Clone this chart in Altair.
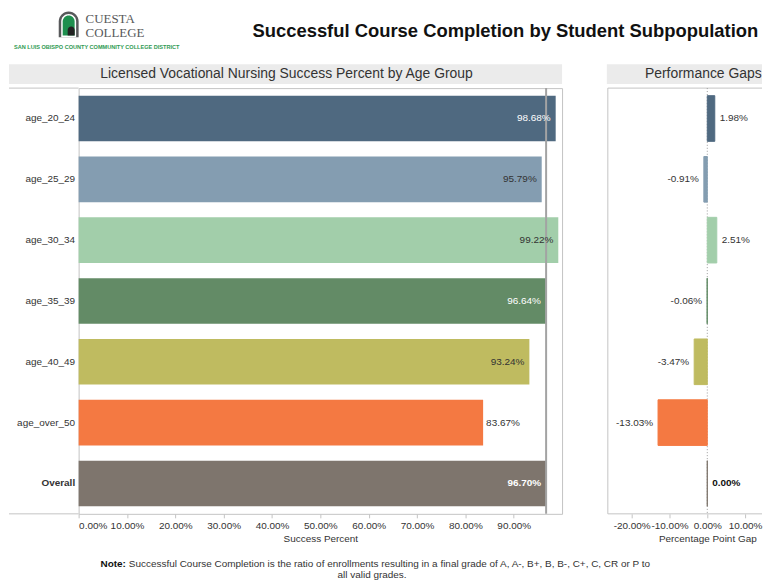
import altair as alt
import pandas as pd

# ---------------- data ----------------
groups = ["age_20_24", "age_25_29", "age_30_34", "age_35_39", "age_40_49", "age_over_50", "Overall"]
success_pct = [98.68, 95.79, 99.22, 96.64, 93.24, 83.67, 96.70]
gap_pct = [1.98, -0.91, 2.51, -0.06, -3.47, -13.03, 0.00]
bar_colors = ["#4f6980", "#849db1", "#a2ceaa", "#638b66", "#bfbb60", "#f47942", "#7e756d"]
success_label_colors = ["#ffffff", "#333333", "#333333", "#ffffff", "#333333", "#333333", "#ffffff"]
success_label_inside = [True, True, True, True, True, False, True]
success_ticks = [0.0, 0.1, 0.2, 0.3, 0.4, 0.5, 0.6, 0.7, 0.8, 0.9]
gap_ticks = [-0.2, -0.1, 0.0, 0.1]
gap_domain = [-0.26316, 0.14474]

main_title = "Successful Course Completion by Student Subpopulation"
left_title = "Licensed Vocational Nursing Success Percent by Age Group"
right_title = "Performance Gaps"
logo_top = "CUESTA"
logo_bottom = "COLLEGE"
logo_district = "SAN LUIS OBISPO COUNTY COMMUNITY COLLEGE DISTRICT"
note_bold = "Note:"
note_line1 = "Successful Course Completion is the ratio of enrollments resulting in a final grade of A, A-, B+, B, B-, C+, C, CR or P to"
note_line2 = "all valid grades."

FONT = "Liberation Sans"
LINE = "#c4c4c4"
TXT = "#333333"
HDR = "#ebebeb"

df = pd.DataFrame({
    "group": groups,
    "success": [v / 100 for v in success_pct],
    "gap": [v / 100 for v in gap_pct],
    "color": bar_colors,
    "lab_color": success_label_colors,
    "inside": success_label_inside,
    "s_label": [f"{v:.2f}%" for v in success_pct],
    "g_label": [f"{v:.2f}%" for v in gap_pct],
})
one = pd.DataFrame({"k": [0]})

LW, RW, H = 486, 155, 428
FULLW = 685
ypad = alt.Scale(paddingInner=0.25, paddingOuter=0.125)
noview = alt.ViewBackground(stroke="transparent")

# ---------------- left panel ----------------
yL = alt.Y("group:N", sort=groups, title=None, scale=ypad,
           axis=alt.Axis(domain=False, ticks=False, labelPadding=4, labelFontSize=10,
                         labelColor=TXT, labelFont=FONT, labelLimit=200,
                         labelFontWeight={"condition": {"test": "datum.value == 'Overall'", "value": "bold"},
                                          "value": "normal"}))
xL = alt.X("success:Q", scale=alt.Scale(domain=[0, 1], nice=False),
           axis=alt.Axis(values=success_ticks, format=".2%", title="Success Percent", grid=False,
                         domain=False, tickSize=4, tickColor=LINE, labelFlush=True,
                         labelFontSize=10, labelColor=TXT, labelFont=FONT, labelPadding=3,
                         titleFontSize=10, titleFontWeight="normal", titleColor=TXT, titleFont=FONT,
                         titlePadding=3))
base = alt.Chart(df)
barsL = base.mark_bar().encode(x=xL, y=yL, color=alt.Color("color:N", scale=None))
ruleL = base.transform_filter("datum.group == 'Overall'").mark_rule(color="#a3a3a3", strokeWidth=2).encode(
    x="success:Q")
ys = alt.Y("group:N", sort=groups)
txtL_in = base.transform_filter("datum.inside && datum.group != 'Overall'").mark_text(
    align="right", dx=-5, fontSize=10, font=FONT).encode(
    x="success:Q", y=ys, text="s_label:N", color=alt.Color("lab_color:N", scale=None))
txtL_out = base.transform_filter("!datum.inside").mark_text(
    align="left", dx=3, fontSize=10, font=FONT).encode(
    x="success:Q", y=ys, text="s_label:N", color=alt.Color("lab_color:N", scale=None))
txtL_ov = base.transform_filter("datum.group == 'Overall'").mark_text(
    align="right", dx=-5, fontSize=10, font=FONT, fontWeight="bold").encode(
    x="success:Q", y=ys, text="s_label:N", color=alt.Color("lab_color:N", scale=None))
hdrL = alt.Chart(one).mark_rect(color=HDR).encode(
    x=alt.value(-70), x2=alt.value(LW), y=alt.value(-24), y2=alt.value(-4))
hdrLt = alt.Chart(one).mark_text(fontSize=14, color=TXT, font=FONT).encode(
    x=alt.value(209), y=alt.value(-14), text=alt.value(left_title))
topL = alt.Chart(one).mark_rule(color=LINE).encode(x=alt.value(-70), x2=alt.value(0), y=alt.value(0))
botL = alt.Chart(one).mark_rule(color=LINE).encode(x=alt.value(-70), x2=alt.value(0), y=alt.value(H))

left = alt.layer(hdrL, hdrLt, topL, botL, barsL, ruleL, txtL_in, txtL_out, txtL_ov).properties(
    width=LW, height=H)

# ---------------- right panel ----------------
yR = alt.Y("group:N", sort=groups, title=None, scale=ypad, axis=None)
xR = alt.X("gap:Q", scale=alt.Scale(domain=gap_domain, nice=False),
           axis=alt.Axis(values=gap_ticks, format=".2%", title="Percentage Point Gap", grid=False,
                         labelExpr="replace(datum.label, '\u2212', '-')",
                         domain=False, tickSize=4, tickColor=LINE,
                         labelFontSize=10, labelColor=TXT, labelFont=FONT, labelPadding=3,
                         titleFontSize=10, titleFontWeight="normal", titleColor=TXT, titleFont=FONT,
                         titlePadding=3, titleX=100, titleAlign="center"))
zeroR = alt.Chart(one).mark_rule(color="#9a9a9a", strokeDash=[1, 2]).encode(x=alt.datum(0))
barsR = base.mark_bar(strokeWidth=1).encode(
    x=xR, y=yR, color=alt.Color("color:N", scale=None), stroke=alt.Stroke("color:N", scale=None))
txtR_pos = base.transform_filter("datum.gap > 0").mark_text(
    align="left", dx=5, fontSize=10, font=FONT, color=TXT).encode(x="gap:Q", y=ys, text="g_label:N")
txtR_neg = base.transform_filter("datum.gap < 0").mark_text(
    align="right", dx=-5, fontSize=10, font=FONT, color=TXT).encode(x="gap:Q", y=ys, text="g_label:N")
txtR_ov = base.transform_filter("datum.group == 'Overall'").mark_text(
    align="left", dx=5, fontSize=10, font=FONT, color="#111111", fontWeight="bold").encode(
    x="gap:Q", y=ys, text="g_label:N")
hdrR = alt.Chart(one).mark_rect(color=HDR).encode(
    x=alt.value(-1), x2=alt.value(RW), y=alt.value(-24), y2=alt.value(-4))
hdrRt = alt.Chart(one).mark_text(fontSize=14, color=TXT, font=FONT).encode(
    x=alt.value(96), y=alt.value(-14), text=alt.value(right_title))
leftR = alt.Chart(one).mark_rule(color=LINE).encode(x=alt.value(0), y=alt.value(0), y2=alt.value(H))
topR = alt.Chart(one).mark_rule(color=LINE).encode(x=alt.value(0), x2=alt.value(RW), y=alt.value(0))
botR = alt.Chart(one).mark_rule(color=LINE).encode(x=alt.value(0), x2=alt.value(RW), y=alt.value(H))

right = alt.layer(hdrR, hdrRt, leftR, topR, botR, zeroR, barsR, txtR_pos, txtR_neg, txtR_ov).properties(
    width=RW, height=H, view=noview)

panels = alt.hconcat(left, right, spacing=43)

# ---------------- top banner (origin aligned with left plot, page x=78) ----------------
tb = alt.Chart(one)
title_t = tb.mark_text(fontSize=18.5, fontWeight="bold", color="#111111", font=FONT,
                       align="center", baseline="middle").encode(
    x=alt.value(429), y=alt.value(20.6), text=alt.value(main_title))
arch_out = tb.mark_rect(color="#58595b", cornerRadiusTopLeft=10, cornerRadiusTopRight=10).encode(
    x=alt.value(-20), x2=alt.value(0), y=alt.value(1), y2=alt.value(27))
arch_in = tb.mark_rect(color="#ffffff", cornerRadiusTopLeft=7.5, cornerRadiusTopRight=7.5).encode(
    x=alt.value(-17.5), x2=alt.value(-2.5), y=alt.value(3.5), y2=alt.value(27))
arch_green = tb.mark_rect(color="#1e8f4e", cornerRadiusTopLeft=6, cornerRadiusTopRight=6).encode(
    x=alt.value(-16), x2=alt.value(-4), y=alt.value(5), y2=alt.value(25))
arch_dark = tb.mark_rect(color="#222222", cornerRadiusTopLeft=4, cornerRadiusTopRight=4).encode(
    x=alt.value(-11), x2=alt.value(-4), y=alt.value(16), y2=alt.value(25))
logo1 = tb.mark_text(fontSize=13, font="Liberation Serif", color="#58595b", align="left",
                     baseline="middle").encode(
    x=alt.value(7), y=alt.value(9.0), text=alt.value(logo_top))
logo2 = tb.mark_text(fontSize=13, font="Liberation Serif", color="#58595b", align="left",
                     baseline="middle").encode(x=alt.value(7), y=alt.value(23.0), text=alt.value(logo_bottom))
logo3 = tb.mark_text(fontSize=5.6, fontWeight="bold", font=FONT, color="#2f9a52", align="left",
                     baseline="middle").encode(x=alt.value(-65), y=alt.value(37), text=alt.value(logo_district))
top = alt.layer(arch_out, arch_in, arch_green, arch_dark, logo1, logo2, logo3, title_t).properties(
    width=FULLW, height=47, view=noview)

# ---------------- note ----------------
nb = alt.Chart(one)
n1 = nb.mark_text(fontSize=10, fontWeight="bold", font=FONT, color="#111111", align="left",
                  baseline="middle").encode(x=alt.value(22), y=alt.value(13.5), text=alt.value(note_bold))
n2 = nb.mark_text(fontSize=10, font=FONT, color=TXT, align="left", baseline="middle").encode(
    x=alt.value(50.5), y=alt.value(13.5), text=alt.value(note_line1))
n3 = nb.mark_text(fontSize=10, font=FONT, color=TXT, align="center", baseline="middle").encode(
    x=alt.value(295), y=alt.value(24.5), text=alt.value(note_line2))
note = alt.layer(n1, n2, n3).properties(width=FULLW, height=30, view=noview)

chart = alt.vconcat(top, panels, note, spacing=5).properties(padding=0).configure(
    font=FONT, background="white"
).configure_view(stroke=LINE)

chart.save("out.html", embed_options={"renderer": "svg", "actions": False})
